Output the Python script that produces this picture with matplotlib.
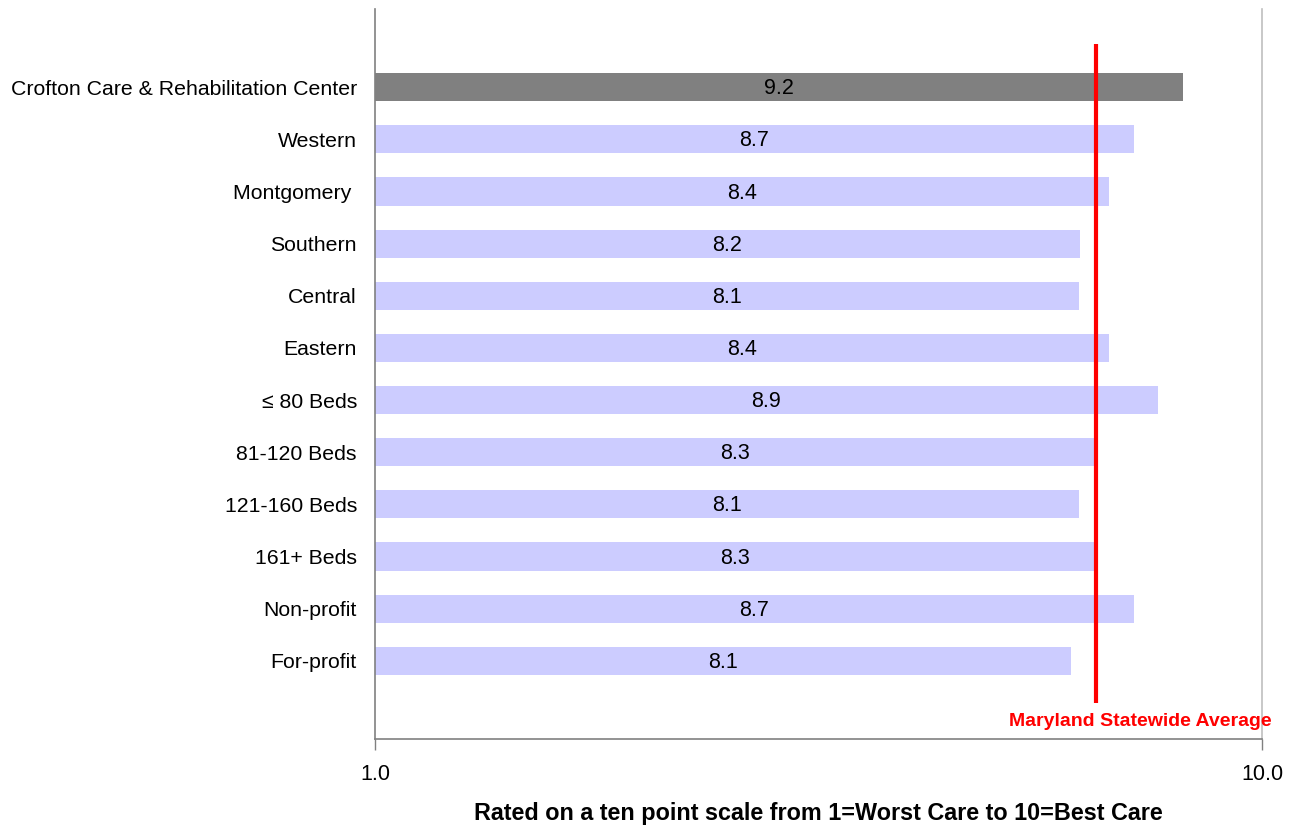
import matplotlib
matplotlib.use("Agg")
import matplotlib.pyplot as plt

categories = ["Crofton Care & Rehabilitation Center", "Western", "Montgomery ", "Southern",
              "Central", "Eastern", "\u2264 80 Beds", "81-120 Beds", "121-160 Beds",
              "161+ Beds", "Non-profit", "For-profit"]
values = [9.2, 8.7, 8.45, 8.15, 8.14, 8.45, 8.94, 8.3, 8.14, 8.3, 8.7, 8.06]
value_labels = ["9.2", "8.7", "8.4", "8.2", "8.1", "8.4", "8.9", "8.3", "8.1", "8.3", "8.7", "8.1"]
statewide_avg = 8.32
x_ticks = [1.0, 10.0]
x_tick_labels = ["1.0", "10.0"]
base = 1.0

plt.rcParams['font.family'] = ['Liberation Sans', 'DejaVu Sans']

fig = plt.figure(figsize=(12.96, 8.27), dpi=100)
ax = fig.add_axes([375/1296, 1-739/827, 887/1296, 730/827])

colors = ["#808080"] + ["#CCCCFF"] * (len(categories) - 1)
ypos = list(range(len(categories)))
widths = [v - base for v in values]
ax.barh(ypos, widths, left=base, height=0.54, color=colors, zorder=2)

for y, v, lab in zip(ypos, values, value_labels):
    ax.text((base + v) / 2, y + 0.03, lab, ha="center", va="center", fontsize=15.5, color="black", zorder=3)

ax.vlines(statewide_avg, -0.82, 11.8, color="#FF0000", linewidth=3, zorder=4)
ax.text(statewide_avg + 0.45, 12.16, "Maryland Statewide Average", color="#FF0000",
        fontsize=14, fontweight="bold", ha="center", va="center", zorder=5, clip_on=False)

ax.set_xlim(1.0, 10.0)
ax.set_ylim(12.5, -1.5)
ax.set_xticks(x_ticks)
ax.set_xticklabels(x_tick_labels, fontsize=15.5)
ax.set_yticks(ypos)
ax.set_yticklabels(categories, fontsize=15.3)
ax.tick_params(axis="y", length=0, pad=13)
ax.tick_params(axis="x", length=8, width=1, color="#808080", pad=10)
ax.axvline(10.0, color="#BFBFBF", linewidth=1.2, zorder=1, clip_on=False)

for s in ["top", "right"]:
    ax.spines[s].set_visible(False)
for s in ["left", "bottom"]:
    ax.spines[s].set_color("#808080")
    ax.spines[s].set_linewidth(1.2)

ax.set_xlabel("Rated on a ten point scale from 1=Worst Care to 10=Best Care",
              fontsize=16.8, fontweight="bold", labelpad=12)

fig.savefig("out.png", dpi=100)
